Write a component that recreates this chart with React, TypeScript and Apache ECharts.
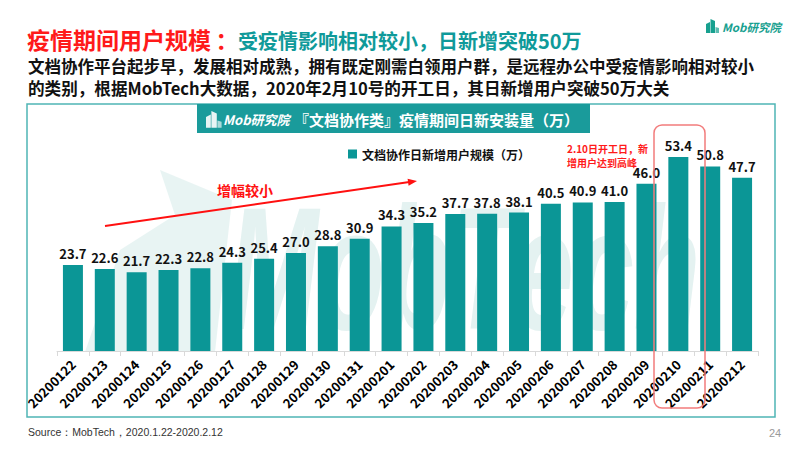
import React, { useEffect, useRef } from "react";
import * as echarts from "echarts";

const categories = [
  "20200122", "20200123", "20200124", "20200125", "20200126", "20200127",
  "20200128", "20200129", "20200130", "20200131", "20200201", "20200202",
  "20200203", "20200204", "20200205", "20200206", "20200207", "20200208",
  "20200209", "20200210", "20200211", "20200212",
];
const values = [
  23.7, 22.6, 21.7, 22.3, 22.8, 24.3, 25.4, 27.0, 28.8, 30.9, 34.3, 35.2,
  37.7, 37.8, 38.1, 40.5, 40.9, 41.0, 46.0, 53.4, 50.8, 47.7,
];
const seriesName = "文档协作日新增用户规模（万）";
const titleRed = "疫情期间用户规模";
const titleColon = "：";
const titleTeal = "受疫情影响相对较小，日新增突破50万";
const subLine1 = "文档协作平台起步早，发展相对成熟，拥有既定刚需白领用户群，是远程办公中受疫情影响相对较小";
const subLine2 = "的类别，根据MobTech大数据，2020年2月10号的开工日，其日新增用户突破50万大关";
const bannerText = "『文档协作类』疫情期间日新安装量（万）";
const noteText = "2.10日开工日，新\n增用户达到高峰";
const trendText = "增幅较小";
const sourceText = "Source：MobTech，2020.1.22-2020.2.12";
const pageNo = "24";

const CJK = '"Noto Sans CJK SC", "Noto Sans", sans-serif';
const TEAL = "#0b9696";

function logoIcon(x: number, y: number, s: number, color: string, z: number) {
  return {
    type: "group",
    x,
    y,
    z,
    children: [
      { type: "polygon", shape: { points: [[0, 14 * s], [0, 5 * s], [4 * s, 3 * s], [4 * s, 14 * s]] }, style: { fill: color }, z },
      { type: "polygon", shape: { points: [[4.5 * s, 14 * s], [4.5 * s, 0], [9 * s, 2 * s], [9 * s, 14 * s]] }, style: { fill: color }, z },
      { type: "polygon", shape: { points: [[9.5 * s, 14 * s], [9.5 * s, 8 * s], [13 * s, 9 * s], [13 * s, 14 * s]] }, style: { fill: color, opacity: 0.7 }, z },
    ],
  };
}

export default function App() {
  const ref = useRef<HTMLDivElement>(null);
  useEffect(() => {
    document.body.style.margin = "0";
    const chart = echarts.init(ref.current!, undefined, { renderer: "svg" });
    const ax = 417, ay = 181, bx = 105, by = 226;
    const dx = ax - bx, dy = ay - by;
    const len = Math.sqrt(dx * dx + dy * dy);
    const ux = dx / len, uy = dy / len;
    const px = -uy, py = ux;
    const head = [
      [ax, ay],
      [ax - ux * 9 + px * 3.5, ay - uy * 9 + py * 3.5],
      [ax - ux * 9 - px * 3.5, ay - uy * 9 - py * 3.5],
    ];
    chart.setOption({
      animation: false,
      grid: { left: 57, right: 42, top: 133, bottom: 99 },
      legend: {
        data: [seriesName],
        left: 343,
        top: 143,
        icon: "rect",
        itemWidth: 9,
        itemHeight: 9,
        itemGap: 6,
        textStyle: { fontFamily: CJK, fontWeight: "bold", fontSize: 12, color: "#111" },
      },
      xAxis: {
        type: "category",
        data: categories,
        axisLine: { lineStyle: { color: "#d9d9d9", width: 1 } },
        axisTick: { show: true, lineStyle: { color: "#d9d9d9" }, length: 5 },
        axisLabel: {
          interval: 0,
          rotate: 45,
          margin: 11,
          fontFamily: CJK,
          fontWeight: "bold",
          fontSize: 13,
          color: "#000",
        },
      },
      yAxis: { type: "value", min: 0, max: 60, show: false, splitLine: { show: false } },
      series: [
        {
          name: seriesName,
          type: "bar",
          data: values,
          barWidth: 20,
          itemStyle: { color: TEAL },
          z: 5,
          label: {
            show: true,
            position: "top",
            distance: 5,
            formatter: (p: any) => Number(p.value).toFixed(1),
            fontFamily: CJK,
            fontWeight: "bold",
            fontSize: 13,
            color: "#111",
          },
        },
      ],
      graphic: [
        // watermark
        {
          type: "polygon",
          z: 0,
          shape: { points: [[85, 352], [120, 250], [175, 215], [160, 170], [232, 200], [215, 352]] },
          style: { fill: "#e6f3f2", opacity: 0.9 },
        },
        {
          type: "text",
          z: 0,
          x: 228,
          y: 268,
          scaleX: 0.62,
          style: {
            text: "MobTech",
            fontFamily: '"Liberation Sans", Arial, sans-serif',
            fontStyle: "italic",
            fontWeight: "bold",
            fontSize: 175,
            fill: "#e4f2f1",
            verticalAlign: "middle",
          },
        },
        // outer box
        {
          type: "rect",
          z: 1,
          shape: { x: 27, y: 104, width: 748, height: 313 },
          style: { fill: "none", stroke: "#4fb5b5", lineWidth: 1.5 },
        },
        // banner
        {
          type: "rect",
          z: 10,
          shape: { x: 197, y: 104, width: 393, height: 29 },
          style: { fill: "#1a9b9b" },
        },
        logoIcon(206, 111, 1.2, "#e8f4f4", 11),
        {
          type: "text",
          z: 11,
          x: 223,
          y: 119,
          style: {
            text: "Mob研究院",
            fontFamily: CJK,
            fontStyle: "italic",
            fontWeight: "bold",
            fontSize: 13,
            fill: "#ffffff",
            verticalAlign: "middle",
          },
        },
        {
          type: "text",
          z: 11,
          x: 294,
          y: 119,
          style: {
            text: bannerText,
            fontFamily: CJK,
            fontWeight: "bold",
            fontSize: 15,
            fill: "#ffffff",
            verticalAlign: "middle",
          },
        },
        // title
        {
          type: "text",
          z: 10,
          x: 27,
          y: 39,
          style: { text: titleRed, fontFamily: CJK, fontWeight: "bold", fontSize: 23, fill: "#ff1a1a", verticalAlign: "middle" },
        },
        {
          type: "text",
          z: 10,
          x: 227,
          y: 39,
          style: { text: titleColon, fontFamily: CJK, fontWeight: "bold", fontSize: 23, fill: "#ff1a1a", align: "center", verticalAlign: "middle" },
        },
        {
          type: "text",
          z: 10,
          x: 238,
          y: 40,
          style: { text: titleTeal, fontFamily: CJK, fontWeight: "bold", fontSize: 20, fill: "#0f9a9a", verticalAlign: "middle" },
        },
        {
          type: "text",
          z: 10,
          x: 28,
          y: 66,
          style: { text: subLine1, fontFamily: CJK, fontWeight: "bold", fontSize: 16.5, lineHeight: 18, fill: "#111", verticalAlign: "middle" },
        },
        {
          type: "text",
          z: 10,
          x: 28,
          y: 88,
          style: { text: subLine2, fontFamily: CJK, fontWeight: "bold", fontSize: 16.6, lineHeight: 18, fill: "#111", verticalAlign: "middle" },
        },
        // top-right logo
        logoIcon(706, 19, 1.0, "#17a08f", 10),
        {
          type: "text",
          z: 10,
          x: 722,
          y: 27,
          style: {
            text: "Mob研究院",
            fontFamily: CJK,
            fontStyle: "italic",
            fontWeight: "bold",
            fontSize: 11.5,
            fill: "#17a08f",
            verticalAlign: "middle",
          },
        },
        // trend arrow
        {
          type: "line",
          z: 10,
          shape: { x1: bx, y1: by, x2: ax - ux * 6, y2: ay - uy * 6 },
          style: { stroke: "#ff1010", lineWidth: 2 },
        },
        { type: "polygon", z: 10, shape: { points: head }, style: { fill: "#ff1010" } },
        {
          type: "text",
          z: 10,
          x: 217,
          y: 190,
          style: { text: trendText, fontFamily: CJK, fontWeight: "bold", fontSize: 14, fill: "#ff1010", verticalAlign: "middle" },
        },
        // peak annotation
        {
          type: "text",
          z: 10,
          x: 567,
          y: 141,
          style: { text: noteText, fontFamily: CJK, fontWeight: "bold", fontSize: 10, lineHeight: 14, fill: "#ff1a1a" },
        },
        {
          type: "rect",
          z: 10,
          shape: { x: 654, y: 125, width: 51, height: 283, r: 8 },
          style: { fill: "none", stroke: "#f27c7c", lineWidth: 1.5 },
        },
        // footer
        {
          type: "text",
          z: 10,
          x: 28,
          y: 432,
          style: { text: sourceText, fontFamily: '"Liberation Sans", Arial, sans-serif', fontSize: 10.5, fill: "#333", verticalAlign: "middle" },
        },
        {
          type: "text",
          z: 10,
          x: 769,
          y: 433,
          style: { text: pageNo, fontFamily: '"Liberation Sans", Arial, sans-serif', fontSize: 11, fill: "#999", verticalAlign: "middle" },
        },
      ],
    });
    return () => chart.dispose();
  }, []);
  return <div ref={ref} style={{ width: 800, height: 450 }} />;
}
